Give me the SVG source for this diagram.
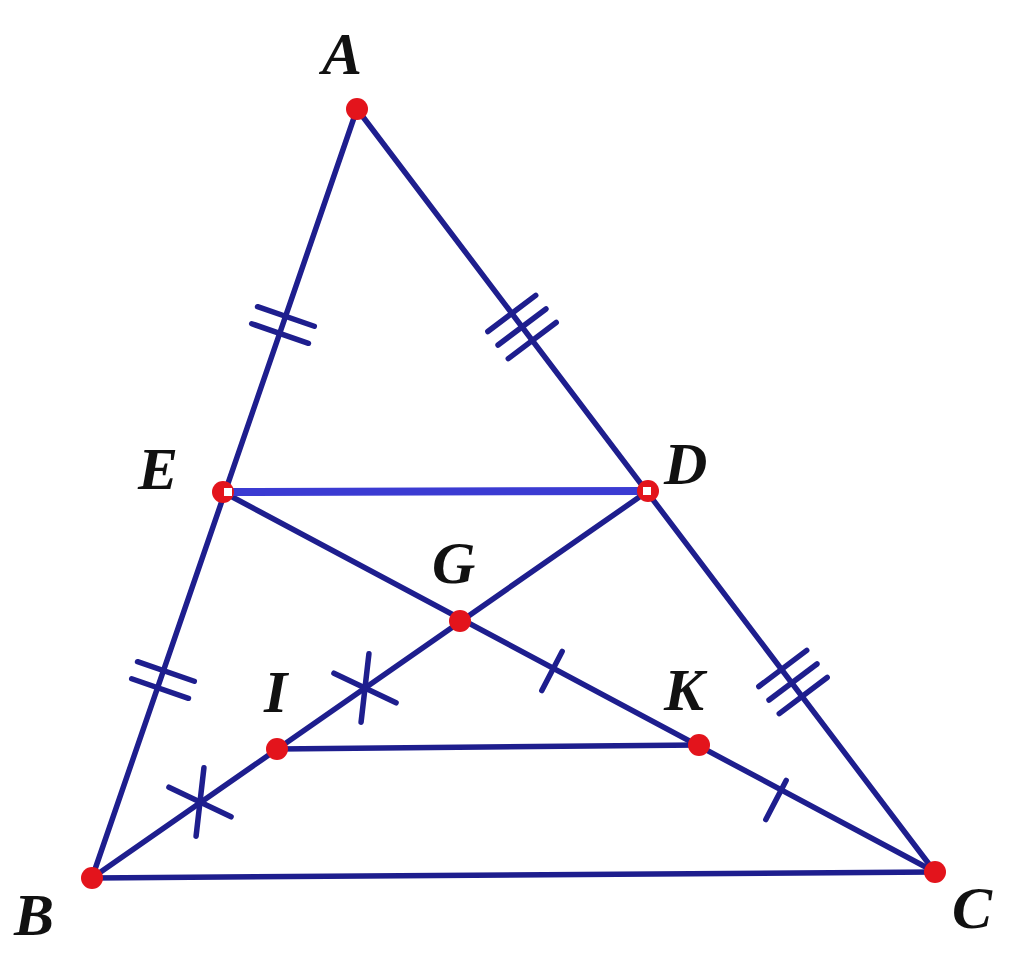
<svg xmlns="http://www.w3.org/2000/svg" width="1024" height="978" viewBox="0 0 1024 978">
<style>
.l{stroke:#1e1e8e;stroke-width:5.5;stroke-linecap:round;fill:none}
.t{stroke:#1e1e8e;stroke-width:5.5;stroke-linecap:round}
.p{fill:#e3141c}
.lab{font-family:"Liberation Serif",serif;font-style:italic;font-weight:bold;font-size:60px;fill:#111}
</style>
<rect width="1024" height="978" fill="#fff"/>
<g id="connectors">
<line class="l" x1="357" y1="109" x2="92" y2="878"/>
<line class="l" x1="357" y1="109" x2="935" y2="872"/>
<line class="l" x1="92" y1="878" x2="935" y2="872"/>
<line class="l" x1="223" y1="492" x2="935" y2="872"/>
<line class="l" x1="648" y1="491" x2="92" y2="878"/>
<line class="l" x1="277" y1="749" x2="699" y2="745"/>
<line x1="223" y1="492" x2="648" y2="491" stroke="#3b3bd2" stroke-width="8"/>
</g>
<g id="ticks">
<g transform="translate(283,325) rotate(19)">
<line class="t" x1="-30" y1="-9" x2="30" y2="-9"/>
<line class="t" x1="-30" y1="9" x2="30" y2="9"/>
</g>
<g transform="translate(163,680) rotate(19)">
<line class="t" x1="-30" y1="-9" x2="30" y2="-9"/>
<line class="t" x1="-30" y1="9" x2="30" y2="9"/>
</g>
<g transform="translate(522,327) rotate(-37)">
<line class="t" x1="-30" y1="-17" x2="30" y2="-17"/>
<line class="t" x1="-30" y1="0" x2="30" y2="0"/>
<line class="t" x1="-30" y1="17" x2="30" y2="17"/>
</g>
<g transform="translate(793,682) rotate(-37)">
<line class="t" x1="-30" y1="-17" x2="30" y2="-17"/>
<line class="t" x1="-30" y1="0" x2="30" y2="0"/>
<line class="t" x1="-30" y1="17" x2="30" y2="17"/>
</g>
<g transform="translate(365,688) rotate(-29)">
<line class="t" x1="-20" y1="-28" x2="20" y2="28"/>
<line class="t" x1="20" y1="-28" x2="-20" y2="28"/>
</g>
<g transform="translate(200,802) rotate(-29)">
<line class="t" x1="-20" y1="-28" x2="20" y2="28"/>
<line class="t" x1="20" y1="-28" x2="-20" y2="28"/>
</g>
<g transform="translate(552,671) rotate(27.5)">
<line class="t" x1="0" y1="-22" x2="0" y2="22"/>
</g>
<g transform="translate(776,800) rotate(27.5)">
<line class="t" x1="0" y1="-22" x2="0" y2="22"/>
</g>
</g>
<g id="A"><circle class="p" cx="357" cy="109" r="11"/><text class="lab" x="322" y="74">A</text></g>
<g id="B"><circle class="p" cx="92" cy="878" r="11"/><text class="lab" x="14" y="935">B</text></g>
<g id="C"><circle class="p" cx="935" cy="872" r="11"/><text class="lab" x="952" y="928">C</text></g>
<g id="E"><circle class="p" cx="223" cy="492" r="11"/><rect x="224" y="488" width="8" height="8" fill="#fff"/><text class="lab" x="138" y="489">E</text></g>
<g id="D"><circle class="p" cx="648" cy="491" r="11"/><rect x="643" y="487" width="8" height="8" fill="#fff"/><text class="lab" x="664" y="484">D</text></g>
<g id="G"><circle class="p" cx="460" cy="621" r="11"/><text class="lab" x="432" y="583">G</text></g>
<g id="I"><circle class="p" cx="277" cy="749" r="11"/><text class="lab" x="264" y="712">I</text></g>
<g id="K"><circle class="p" cx="699" cy="745" r="11"/><text class="lab" x="664" y="710">K</text></g>
</svg>
